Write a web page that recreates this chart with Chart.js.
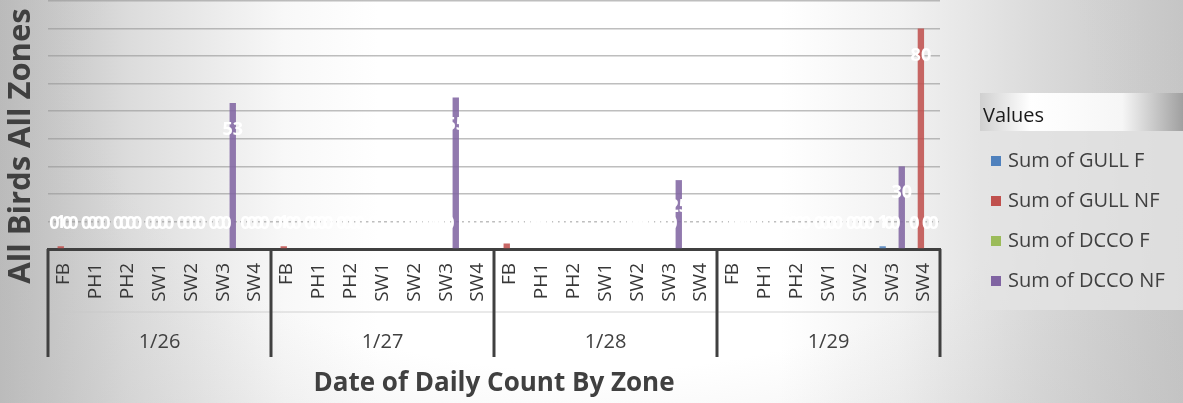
<!DOCTYPE html>
<html>
<head>
<meta charset="utf-8">
<script src="https://cdn.jsdelivr.net/npm/chart.js@4.4.1/dist/chart.umd.min.js"></script>
<style>
  html, body { margin: 0; padding: 0; }
  body {
    width: 1183px; height: 403px; overflow: hidden; position: relative;
    background:
      radial-gradient(ellipse 70% 120% at 50% 20%, rgba(255,255,255,0) 60%, rgba(190,190,190,0.35) 100%),
      linear-gradient(to right, #bababa 0%, #dcdcdc 11%, #f8f8f8 24%, #ffffff 32%, #ffffff 66%, #f2f2f2 76%, #dadada 88%, #c6c6c6 100%);
    font-family: "Open Sans", sans-serif;
  }
  #wrap { position: absolute; left: 0; top: 0; width: 1183px; height: 403px; }
  #legend {
    position: absolute; left: 980px; top: 93px; width: 203px; height: 217px;
    background: rgba(228, 228, 228, 0.8); color: #404040;
  }
  #legend .head {
    height: 38px; line-height: 44px; padding-left: 3px; color: #1a1a1a; font-size: 20px;
    background: linear-gradient(to right, #d0d0d0 0%, #ffffff 25%, #f6f6f6 70%, #a0a0a0 100%);
  }
  #legend .items { padding-top: 9px; }
  #legend .item { height: 40px; line-height: 40px; font-size: 20px; padding-left: 11px; white-space: nowrap; }
  #legend .sw { display: inline-block; width: 10px; height: 10px; margin-right: 7px; vertical-align: 1px; }
</style>
</head>
<body>
<div id="wrap"><canvas id="chart" width="1183" height="403"></canvas></div>
<div id="legend"><div class="head">Values</div><div class="items" id="items"></div></div>
<script>
const zones = ['FB', 'PH1', 'PH2', 'SW1', 'SW2', 'SW3', 'SW4'];
const dates = ['1/26', '1/27', '1/28', '1/29'];

const gullF  = [0, 0, 0, 0, 0, 0, 0,   0, 0, 0, 0, 0, 0, 0,   0, 0, 0, 0, 0, 0, 0,   0, 0, 0, 0, 0, 1, 0];
const gullNF = [1, 0, 0, 0, 0, 0, 0,   1, 0, 0, 0, 0, 0, 0,   2, 0, 0, 0, 0, 0, 0,   0, 0, 0, 0, 0, 0, 80];
const dccoF  = [0, 0, 0, 0, 0, 0, 0,   0, 0, 0, 0, 0, 0, 0,   0, 0, 0, 0, 0, 0, 0,   0, 0, 0, 0, 0, 0, 0];
const dccoNF = [0, 0, 0, 0, 0, 53, 0,  0, 0, 0, 0, 0, 55, 0,  0, 0, 0, 0, 0, 25, 0,  0, 0, 0, 0, 0, 30, 0];

const seriesNames = ['Sum of GULL F', 'Sum of GULL NF', 'Sum of DCCO F', 'Sum of DCCO NF'];
const seriesColors = ['#4f81bd', '#c0504d', '#9bbb59', '#8064a2'];

const labels = [];
dates.forEach(() => zones.forEach(z => labels.push(z)));

const axisColor = '#404040';

// two-level category axis, y title and white value labels
const excelBits = {
  id: 'excelBits',
  afterDatasetsDraw(chart) {
    const ctx = chart.ctx;
    ctx.save();
    ctx.fillStyle = '#ffffff';
    ctx.font = 'bold 18px "Open Sans"';
    ctx.textAlign = 'center';
    ctx.textBaseline = 'middle';
    chart.data.datasets.forEach((ds, i) => {
      chart.getDatasetMeta(i).data.forEach((bar, j) => {
        const v = ds.data[j];
        const h = bar.base - bar.y;
        const y = h > 54 ? bar.y + 27 : bar.base - 25;
        ctx.fillText(String(v), bar.x, y);
      });
    });
    ctx.restore();
  },
  afterDraw(chart) {
    const ctx = chart.ctx;
    const x = chart.scales.x;
    const area = chart.chartArea;
    const n = zones.length;
    const half = (x.getPixelForValue(1) - x.getPixelForValue(0)) / 2;
    ctx.save();
    // faint line between zone row and date row
    ctx.strokeStyle = 'rgba(200,200,200,0.8)';
    ctx.lineWidth = 1;
    ctx.beginPath();
    ctx.moveTo(area.left, area.bottom + 63);
    ctx.lineTo(area.right, area.bottom + 63);
    ctx.stroke();
    ctx.strokeStyle = axisColor;
    ctx.lineWidth = 3;
    for (let g = 0; g <= dates.length; g++) {
      const px = g < dates.length ? x.getPixelForValue(g * n) - half : x.getPixelForValue(g * n - 1) + half;
      ctx.beginPath();
      ctx.moveTo(px, area.bottom);
      ctx.lineTo(px, area.bottom + 108);
      ctx.stroke();
    }
    ctx.fillStyle = axisColor;
    ctx.font = '20px "Open Sans"';
    ctx.textAlign = 'center';
    ctx.textBaseline = 'middle';
    dates.forEach((d, g) => {
      const cx = (x.getPixelForValue(g * n) + x.getPixelForValue(g * n + n - 1)) / 2;
      ctx.fillText(d, cx, area.bottom + 93);
    });
    // y axis title
    ctx.translate(21, 146);
    ctx.rotate(-Math.PI / 2);
    ctx.font = 'bold 31px "Open Sans"';
    ctx.fillText('All Birds All Zones', 0, 0);
    ctx.restore();
  }
};

new Chart(document.getElementById('chart'), {
  type: 'bar',
  data: {
    labels: labels,
    datasets: [gullF, gullNF, dccoF, dccoNF].map((d, i) => ({
      label: seriesNames[i],
      data: d,
      backgroundColor: seriesColors[i] + 'dd',
      borderWidth: 0,
      barPercentage: 1,
      categoryPercentage: 0.8
    }))
  },
  options: {
    responsive: false,
    animation: false,
    layout: { padding: { top: 1, right: 243, left: 0, bottom: 0 } },
    plugins: { legend: { display: false }, tooltip: { enabled: false } },
    scales: {
      x: {
        afterFit: s => { s.height = 154; },
        grid: { display: false },
        border: { display: true, color: axisColor, width: 3 },
        ticks: {
          color: '#383838', font: { family: 'Open Sans', size: 19 },
          minRotation: 90, maxRotation: 90, autoSkip: false, padding: 6
        },
        title: {
          display: true, text: 'Date of Daily Count By Zone', color: axisColor,
          font: { family: 'Open Sans', size: 26, weight: 'bold' }, padding: { bottom: 4 }
        }
      },
      y: {
        min: 0, max: 90,
        afterFit: s => { s.width = 48; },
        ticks: { display: false, stepSize: 10 },
        grid: { color: 'rgba(150,150,150,0.62)', lineWidth: 1.5, drawTicks: false },
        border: { display: false, dash: c => (c.tick && c.tick.value === 10 ? [3, 3] : []) }
      }
    }
  },
  plugins: [excelBits]
});

const items = document.getElementById('items');
seriesNames.forEach((name, i) => {
  const row = document.createElement('div');
  row.className = 'item';
  row.innerHTML = '<span class="sw" style="background:' + seriesColors[i] + '"></span>' + name;
  items.appendChild(row);
});
</script>
</body>
</html>
